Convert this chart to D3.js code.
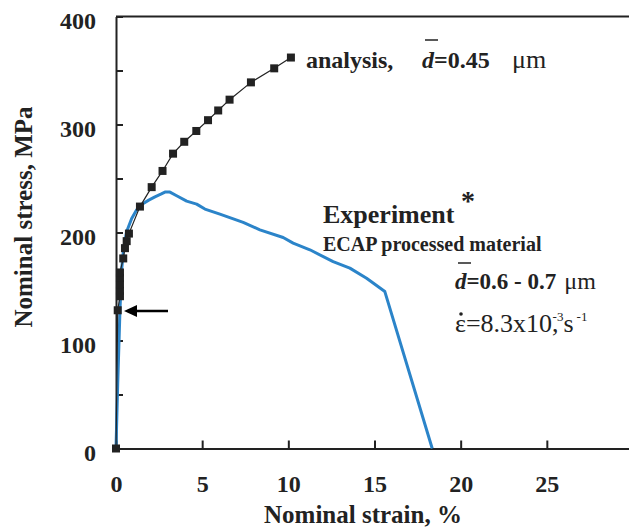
<!DOCTYPE html>
<html>
<head>
<meta charset="utf-8">
<title>Nominal stress vs strain</title>
<script src="https://cdn.jsdelivr.net/npm/d3@7"></script>
<style>
  body { margin: 0; background: #fff; }
  svg text { font-family: "Liberation Serif", "Times New Roman", serif; fill: #222; }
  .axis path, .axis line { stroke: #222; stroke-width: 2; }
  .axis text { font-size: 24px; font-weight: bold; }
</style>
</head>
<body>
<div id="chart"></div>
<script>
// analysis points (strain %, stress MPa)
var analysisStrain = [0, 0.1, 0.23, 0.23, 0.23, 0.23, 0.23, 0.42, 0.52, 0.62, 0.75, 1.39, 2.07, 2.7, 3.31, 3.96, 4.66, 5.34, 5.93, 6.59, 7.83, 9.18, 10.15];
var analysisStress = [0, 128, 141, 146, 152, 158, 163, 176, 185.5, 192, 199, 224, 242, 257, 273, 284, 294, 304, 313, 323, 339, 352, 362];

// experiment curve
var expStrain = [0, 0.1, 0.23, 0.33, 0.45, 0.62, 0.91, 1.2, 1.49, 1.9, 2.26, 2.6, 2.84, 3.13, 3.52, 4.10, 4.68, 5.16, 6.03, 7.38, 8.35, 9.70, 10.28, 11.25, 12.6, 13.57, 14.54, 15.6, 18.35];
var expStress = [0, 60, 128, 166, 186, 201, 213, 221, 226, 230, 233, 235.5, 237.4, 237.4, 234, 229, 226.3, 221.7, 217, 209.3, 202.5, 195.4, 190.2, 184, 173, 167, 157.7, 145.3, 0];

var xTicks = [0, 5, 10, 15, 20, 25];
var yTicks = [0, 50, 100, 150, 200, 250, 300, 350, 400];

var width = 629, height = 529;
var svg = d3.select("#chart").append("svg")
  .attr("width", width)
  .attr("height", height);

var x = d3.scaleLinear().domain([0, 30]).range([116, 633]);
var y = d3.scaleLinear().domain([0, 400]).range([448.5, 16.5]);

// top frame
svg.append("line")
  .attr("x1", x(0)).attr("x2", x(30))
  .attr("y1", y(400)).attr("y2", y(400))
  .style("stroke", "#222").style("stroke-width", 2);

// x axis
svg.append("g")
  .attr("class", "axis")
  .attr("transform", "translate(0," + y(0) + ")")
  .call(d3.axisBottom(x).tickValues(xTicks).tickSizeInner(-8).tickSizeOuter(0).tickPadding(26));

// y axis
svg.append("g")
  .attr("class", "axis")
  .attr("transform", "translate(" + x(0) + ",0)")
  .call(d3.axisLeft(y).tickValues(yTicks).tickSizeInner(-7).tickSizeOuter(0).tickPadding(20)
    .tickFormat(function(d) { return d % 100 === 0 ? d : ""; }))
  .selectAll("text").attr("dy", "0.5em");

// experiment line
var expData = expStrain.map(function(s, i) { return [s, expStress[i]]; });
svg.append("path")
  .datum(expData)
  .attr("d", d3.line().x(function(d) { return x(d[0]); }).y(function(d) { return y(d[1]); }))
  .style("fill", "none")
  .style("stroke", "#2b84c9")
  .style("stroke-width", 3)
  .style("stroke-linejoin", "round");

// analysis line + squares
var anData = analysisStrain.map(function(s, i) { return [s, analysisStress[i]]; });
svg.append("path")
  .datum(anData)
  .attr("d", d3.line().x(function(d) { return x(d[0]); }).y(function(d) { return y(d[1]); }))
  .style("fill", "none")
  .style("stroke", "#222")
  .style("stroke-width", 1.2);

svg.selectAll(".sq")
  .data(anData)
  .enter().append("rect")
  .attr("class", "sq")
  .attr("x", function(d) { return x(d[0]) - 4; })
  .attr("y", function(d) { return y(d[1]) - 4; })
  .attr("width", 8)
  .attr("height", 8)
  .style("fill", "#222");

// arrow pointing at the first yield point
svg.append("line")
  .attr("x1", 168).attr("y1", 311)
  .attr("x2", 134).attr("y2", 311)
  .style("stroke", "#000").style("stroke-width", 2.5);
svg.append("path")
  .attr("d", "M124,311 L137,305 L137,317 Z")
  .style("fill", "#000");

// axis titles
svg.append("text")
  .attr("x", 363).attr("y", 523)
  .attr("text-anchor", "middle")
  .style("font-size", "25px").style("font-weight", "bold")
  .text("Nominal strain, %");

svg.append("text")
  .attr("transform", "translate(32,217) rotate(-90)")
  .attr("text-anchor", "middle")
  .style("font-size", "25px").style("font-weight", "bold")
  .text("Nominal stress, MPa");

// analysis label
var t1 = svg.append("text")
  .attr("x", 306).attr("y", 68)
  .style("font-size", "24px").style("font-weight", "bold");
t1.append("tspan").text("analysis,");
t1.append("tspan").attr("x", 422).style("font-style", "italic").text("d");
t1.append("tspan").text("=0.45");
t1.append("tspan").attr("x", 512).style("font-weight", "normal").style("font-size", "26px").text("\u03bcm");
svg.append("line")
  .attr("x1", 425).attr("x2", 438).attr("y1", 40).attr("y2", 40)
  .style("stroke", "#222").style("stroke-width", 1.5);

// experiment labels
svg.append("text")
  .attr("x", 323).attr("y", 223)
  .style("font-size", "26px").style("font-weight", "bold")
  .text("Experiment");
svg.append("text")
  .attr("x", 461).attr("y", 210)
  .style("font-size", "28px").style("font-weight", "bold")
  .text("*");
svg.append("text")
  .attr("x", 323).attr("y", 251)
  .style("font-size", "20px").style("font-weight", "bold")
  .text("ECAP processed material");

var t2 = svg.append("text")
  .attr("x", 455).attr("y", 289)
  .style("font-size", "23px").style("font-weight", "bold");
t2.append("tspan").style("font-style", "italic").text("d");
t2.append("tspan").text("=0.6 - 0.7");
t2.append("tspan").attr("dx", 8).style("font-weight", "normal").style("font-size", "24px").text("\u03bcm");
svg.append("line")
  .attr("x1", 458).attr("x2", 471).attr("y1", 263).attr("y2", 263)
  .style("stroke", "#222").style("stroke-width", 1.5);

var t3 = svg.append("text")
  .attr("x", 455).attr("y", 332)
  .style("font-size", "26px");
t3.append("tspan").text("\u03b5=8.3x10");
t3.append("tspan").text(",");
t3.append("tspan").attr("dx", -6).attr("dy", -11).style("font-size", "13px").text("-3");
t3.append("tspan").attr("dy", 11).text("s");
t3.append("tspan").attr("dx", 3).attr("dy", -11).style("font-size", "13px").text("-1");
// dot over epsilon
svg.append("circle")
  .attr("cx", 461).attr("cy", 314).attr("r", 1.8)
  .style("fill", "#222");
</script>
</body>
</html>
